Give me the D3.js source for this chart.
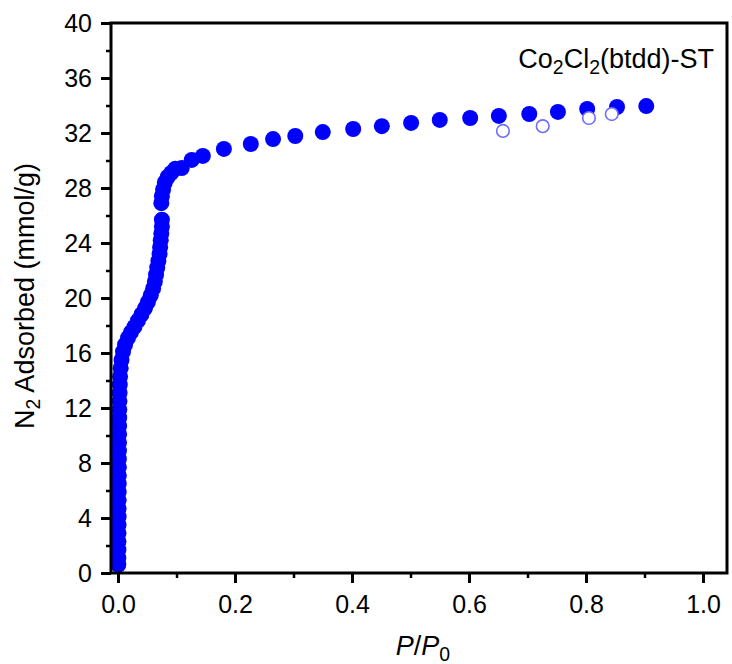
<!DOCTYPE html>
<html><head><meta charset="utf-8">
<script src="https://cdn.jsdelivr.net/npm/d3@7"></script>
<style>
html,body{margin:0;padding:0;background:#fff;}
svg{display:block;font-family:"Liberation Sans",Arial,sans-serif;}
</style></head>
<body>
<svg id="chart" width="732" height="664"></svg>
<script>
// Adsorption branch (filled)
const adsP = [0.0005,0.0006,0.0007,0.0008,0.0008,0.0009,0.0010,0.0010,0.0011,0.0012,0.0012,0.0013,0.0014,0.0015,0.0016,0.0017,0.0018,0.0019,0.0020,0.0022,0.0024,0.0027,0.0030,0.0035,0.0045,0.0060,0.0085,0.012,0.017,0.022,0.028,0.034,0.040,0.046,0.051,0.056,0.060,0.063,0.065,0.067,0.069,0.071,0.072,0.073,0.074,0.075,0.075,0.074,0.075,0.077,0.080,0.085,0.091,0.098,0.109,0.126,0.145,0.181,0.227,0.265,0.303,0.350,0.402,0.451,0.501,0.550,0.602,0.651,0.703,0.752,0.802,0.853,0.903];
const adsN = [0.6,1.1,1.7,2.3,2.9,3.5,4.1,4.7,5.3,5.9,6.5,7.1,7.7,8.3,8.9,9.5,10.1,10.7,11.3,11.9,12.5,13.1,13.7,14.3,14.9,15.5,16.1,16.6,17.1,17.5,17.9,18.35,18.8,19.25,19.7,20.2,20.7,21.2,21.7,22.2,22.7,23.2,23.7,24.2,24.7,25.2,25.7,26.9,27.4,27.9,28.4,28.8,29.1,29.4,29.45,30.04,30.33,30.84,31.2,31.56,31.78,32.07,32.29,32.5,32.73,32.95,33.09,33.24,33.38,33.53,33.75,33.89,33.96];
// Desorption branch (open)
const desP = [0.844,0.805,0.726,0.658];
const desN = [33.38,33.09,32.5,32.15];

const xMajor = [0,0.2,0.4,0.6,0.8,1.0];
const xMinor = [0.1,0.3,0.5,0.7,0.9];
const yMajor = [0,4,8,12,16,20,24,28,32,36,40];
const yMinor = [2,6,10,14,18,22,26,30,34,38];

const svg = d3.select("#chart");
const x = d3.scaleLinear().domain([-0.012,1.041]).range([111,727]);
const y = d3.scaleLinear().domain([0,40]).range([573,23]);
const FS = 25;   // tick labels
const TS = 27;   // titles

// data
const ads = adsP.map((p,i)=>({p, n: adsN[i]}));
const des = desP.map((p,i)=>({p, n: desN[i]}));
svg.append("g").selectAll("circle").data(ads).join("circle")
  .attr("cx",d=>x(d.p)).attr("cy",d=>y(d.n)).attr("r",8).attr("fill","#0000ff");
svg.append("g").selectAll("circle").data(des).join("circle")
  .attr("cx",d=>x(d.p)).attr("cy",d=>y(d.n)).attr("r",6.3)
  .attr("fill","#fff").attr("stroke","#6e6eff").attr("stroke-width",1.6);

// axes
function styleAxis(g){
  g.select(".domain").remove();
  g.selectAll(".tick line").attr("stroke","#000").attr("stroke-width",3);
  g.selectAll(".tick text").attr("fill","#000").attr("font-size",FS).attr("font-family","Liberation Sans, Arial, sans-serif");
}
const yAxisMaj = svg.append("g").attr("transform","translate(111,0)")
  .call(d3.axisLeft(y).tickValues(yMajor).tickSize(10).tickPadding(9).tickFormat(d3.format("d")));
styleAxis(yAxisMaj);
const yAxisMin = svg.append("g").attr("transform","translate(111,0)")
  .call(d3.axisLeft(y).tickValues(yMinor).tickSize(5).tickFormat(""));
styleAxis(yAxisMin);
yAxisMin.selectAll(".tick line").attr("stroke-width",2.5);

const xAxisMaj = svg.append("g").attr("transform","translate(0,573)")
  .call(d3.axisBottom(x).tickValues(xMajor).tickSize(10).tickPadding(12).tickFormat(d3.format(".1f")));
styleAxis(xAxisMaj);
const xAxisMin = svg.append("g").attr("transform","translate(0,573)")
  .call(d3.axisBottom(x).tickValues(xMinor).tickSize(5).tickFormat(""));
styleAxis(xAxisMin);
xAxisMin.selectAll(".tick line").attr("stroke-width",2.5);

// frame
svg.append("rect").attr("x",x.range()[0]).attr("y",y.range()[1])
  .attr("width",x.range()[1]-x.range()[0]).attr("height",y.range()[0]-y.range()[1])
  .attr("fill","none").attr("stroke","#000").attr("stroke-width",3);

// y label
const yl = svg.append("text").attr("transform","translate(34,296) rotate(-90)")
  .attr("text-anchor","middle").attr("font-size",TS).attr("fill","#000");
yl.append("tspan").text("N");
yl.append("tspan").attr("font-size",TS*0.72).attr("dy",6).text("2");
yl.append("tspan").attr("dy",-6).text(" Adsorbed (mmol/g)");

// x label
const xl = svg.append("text").attr("x",423).attr("y",655)
  .attr("text-anchor","middle").attr("font-size",TS).attr("fill","#000");
xl.append("tspan").attr("font-style","italic").text("P");
xl.append("tspan").text("/");
xl.append("tspan").attr("font-style","italic").text("P");
xl.append("tspan").attr("font-size",TS*0.72).attr("dy",6).text("0");

// sample label
const LS = 27;
const lab = svg.append("text").attr("x",714).attr("y",68)
  .attr("text-anchor","end").attr("font-size",LS).attr("fill","#000");
lab.append("tspan").text("Co");
lab.append("tspan").attr("font-size",LS*0.72).attr("dy",6).text("2");
lab.append("tspan").attr("dy",-6).text("Cl");
lab.append("tspan").attr("font-size",LS*0.72).attr("dy",6).text("2");
lab.append("tspan").attr("dy",-6).text("(btdd)-ST");
</script>
</body></html>
